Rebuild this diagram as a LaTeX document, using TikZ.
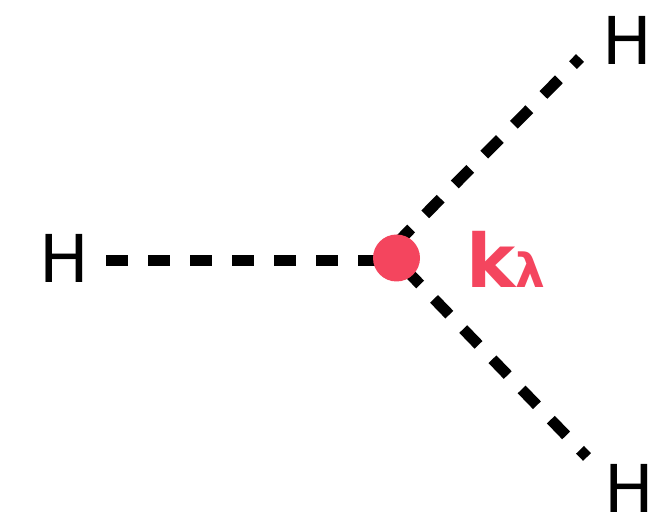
\documentclass[tikz,border=0pt]{standalone}
\usepackage{fontspec}
\setmainfont{DejaVu Sans}
\definecolor{klam}{RGB}{244,69,94}
\begin{document}
\begin{tikzpicture}[x=1pt,y=-1pt,
  hlabel/.style={inner sep=0pt, font=\fontsize{66}{66}\selectfont},
  prop/.style={line width=11pt, dash pattern=on 22pt off 20pt},
  ktext/.style={inner sep=0pt, text=klam, font=\bfseries\fontsize{74}{74}\selectfont},
  lamtext/.style={inner sep=0pt, text=klam, font=\bfseries\fontsize{47}{47}\selectfont}]
\useasboundingbox (0,0) rectangle (651,518);
\node[hlabel] (hl) at (64,258) {H};
\node[hlabel] (hu) at (627,40) {H};
\node[hlabel] (hd) at (629,488) {H};
\coordinate (lstart) at (106,261);
\coordinate (jl) at (396,261);
\coordinate (eu) at (580,58);
\coordinate (ju) at (382,258);
\coordinate (ed) at (587,457);
\coordinate (jd) at (394.5,258);
\draw[prop] (lstart) -- (jl);
\draw[prop, dash phase=12pt] (eu) -- (ju);
\draw[prop, dash phase=12pt] (ed) -- (jd);
\node[circle, fill=klam, inner sep=0pt, minimum size=47pt] (v) at (396.5,258) {};
\node[ktext, anchor=base west] (k) at (466,288) {k};
\node[lamtext, anchor=base west] (lam) at (k.base east) {λ};
\end{tikzpicture}
\end{document}
